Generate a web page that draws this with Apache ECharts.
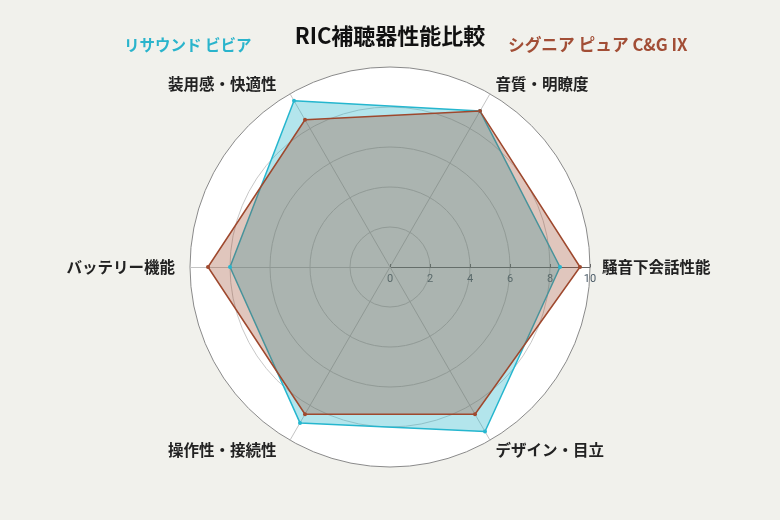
<!DOCTYPE html>
<html><head><meta charset="utf-8">
<script src="https://cdn.jsdelivr.net/npm/echarts@6/dist/echarts.min.js"></script>
<style>html,body{margin:0;padding:0;background:#f1f1ec}#c{width:780px;height:520px}</style>
</head><body><div id="c"></div>
<script>
const indicators = ['騒音下会話性能','音質・明瞭度','装用感・快適性','バッテリー機能','操作性・接続性','デザイン・目立'];
const resoundName = 'リサウンド ビビア';
const signiaName = 'シグニア ピュア C&G IX';
const resoundValues = [8.5, 9.0, 9.6, 8.0, 9.0, 9.5];
const signiaValues = [9.5, 9.0, 8.5, 9.1, 8.5, 8.5];
const maxValue = 10;

const FONT = '"Noto Sans CJK JP", "Noto Sans", sans-serif';
const namePads = [[0,0,0,1],[0,0,0,0],[0,8,0,0],[0,4,0,0],[0,8,0,0],[0,0,0,0]];
const rich = {};
namePads.forEach((p, i) => {
  rich['n' + i] = {color: '#222', fontSize: 15.5, fontWeight: 'bold', fontFamily: FONT, padding: p};
});

const chart = echarts.init(document.getElementById('c'));
chart.setOption({
  backgroundColor: '#f1f1ec',
  textStyle: {fontFamily: FONT},
  title: [
    {text: 'RIC補聴器性能比較', left: 'center', top: 20, textStyle: {fontSize: 22, fontWeight: 'bold', color: '#111', fontFamily: FONT}},
    {text: resoundName, left: 119, top: 32, textStyle: {fontSize: 15.5, fontWeight: 'bold', color: '#2ab4cc', fontFamily: FONT}},
    {text: signiaName, left: 503, top: 31, textStyle: {fontSize: 16.7, fontWeight: 'bold', color: '#a24e36', fontFamily: FONT}}
  ],
  radar: {
    center: [390, 267],
    radius: 200,
    shape: 'circle',
    startAngle: 0,
    splitNumber: 5,
    nameGap: 11,
    axisName: {
      color: '#222', fontSize: 15.5, fontWeight: 'bold', fontFamily: FONT,
      formatter: function (name) { return '{n' + indicators.indexOf(name) + '|' + name + '}'; },
      rich: rich
    },
    indicator: indicators.map((n, i) => i === 0 ? {
      name: n, max: maxValue, min: 0,
      axisLabel: {show: true, color: '#4a5a66', fontSize: 11, margin: -7, verticalAlign: 'top', fontFamily: 'Roboto, sans-serif'},
      axisLine: {lineStyle: {color: '#666', width: 1}},
      axisTick: {show: true, inside: true, length: 3, lineStyle: {color: '#666'}}
    } : {name: n, max: maxValue, min: 0}),
    axisLabel: {show: false},
    axisLine: {lineStyle: {color: '#c4c4c4', width: 1}},
    splitLine: {lineStyle: {color: ['#c8c8c8','#c8c8c8','#c8c8c8','#c8c8c8','#c8c8c8','#8a8a8a'], width: 1}},
    splitArea: {show: true, areaStyle: {color: ['#ffffff']}}
  },
  series: [{
    type: 'radar',
    symbol: 'circle',
    symbolSize: 4,
    data: [
      {name: resoundName, value: resoundValues,
       lineStyle: {color: '#26b7d0', width: 1.5},
       itemStyle: {color: '#26b7d0'},
       areaStyle: {color: 'rgba(38,181,201,0.35)', opacity: 1}},
      {name: signiaName, value: signiaValues,
       lineStyle: {color: '#a04a30', width: 1.5},
       itemStyle: {color: '#a04a30'},
       areaStyle: {color: 'rgba(152,65,35,0.3)', opacity: 1}}
    ]
  }]
});
</script></body></html>
